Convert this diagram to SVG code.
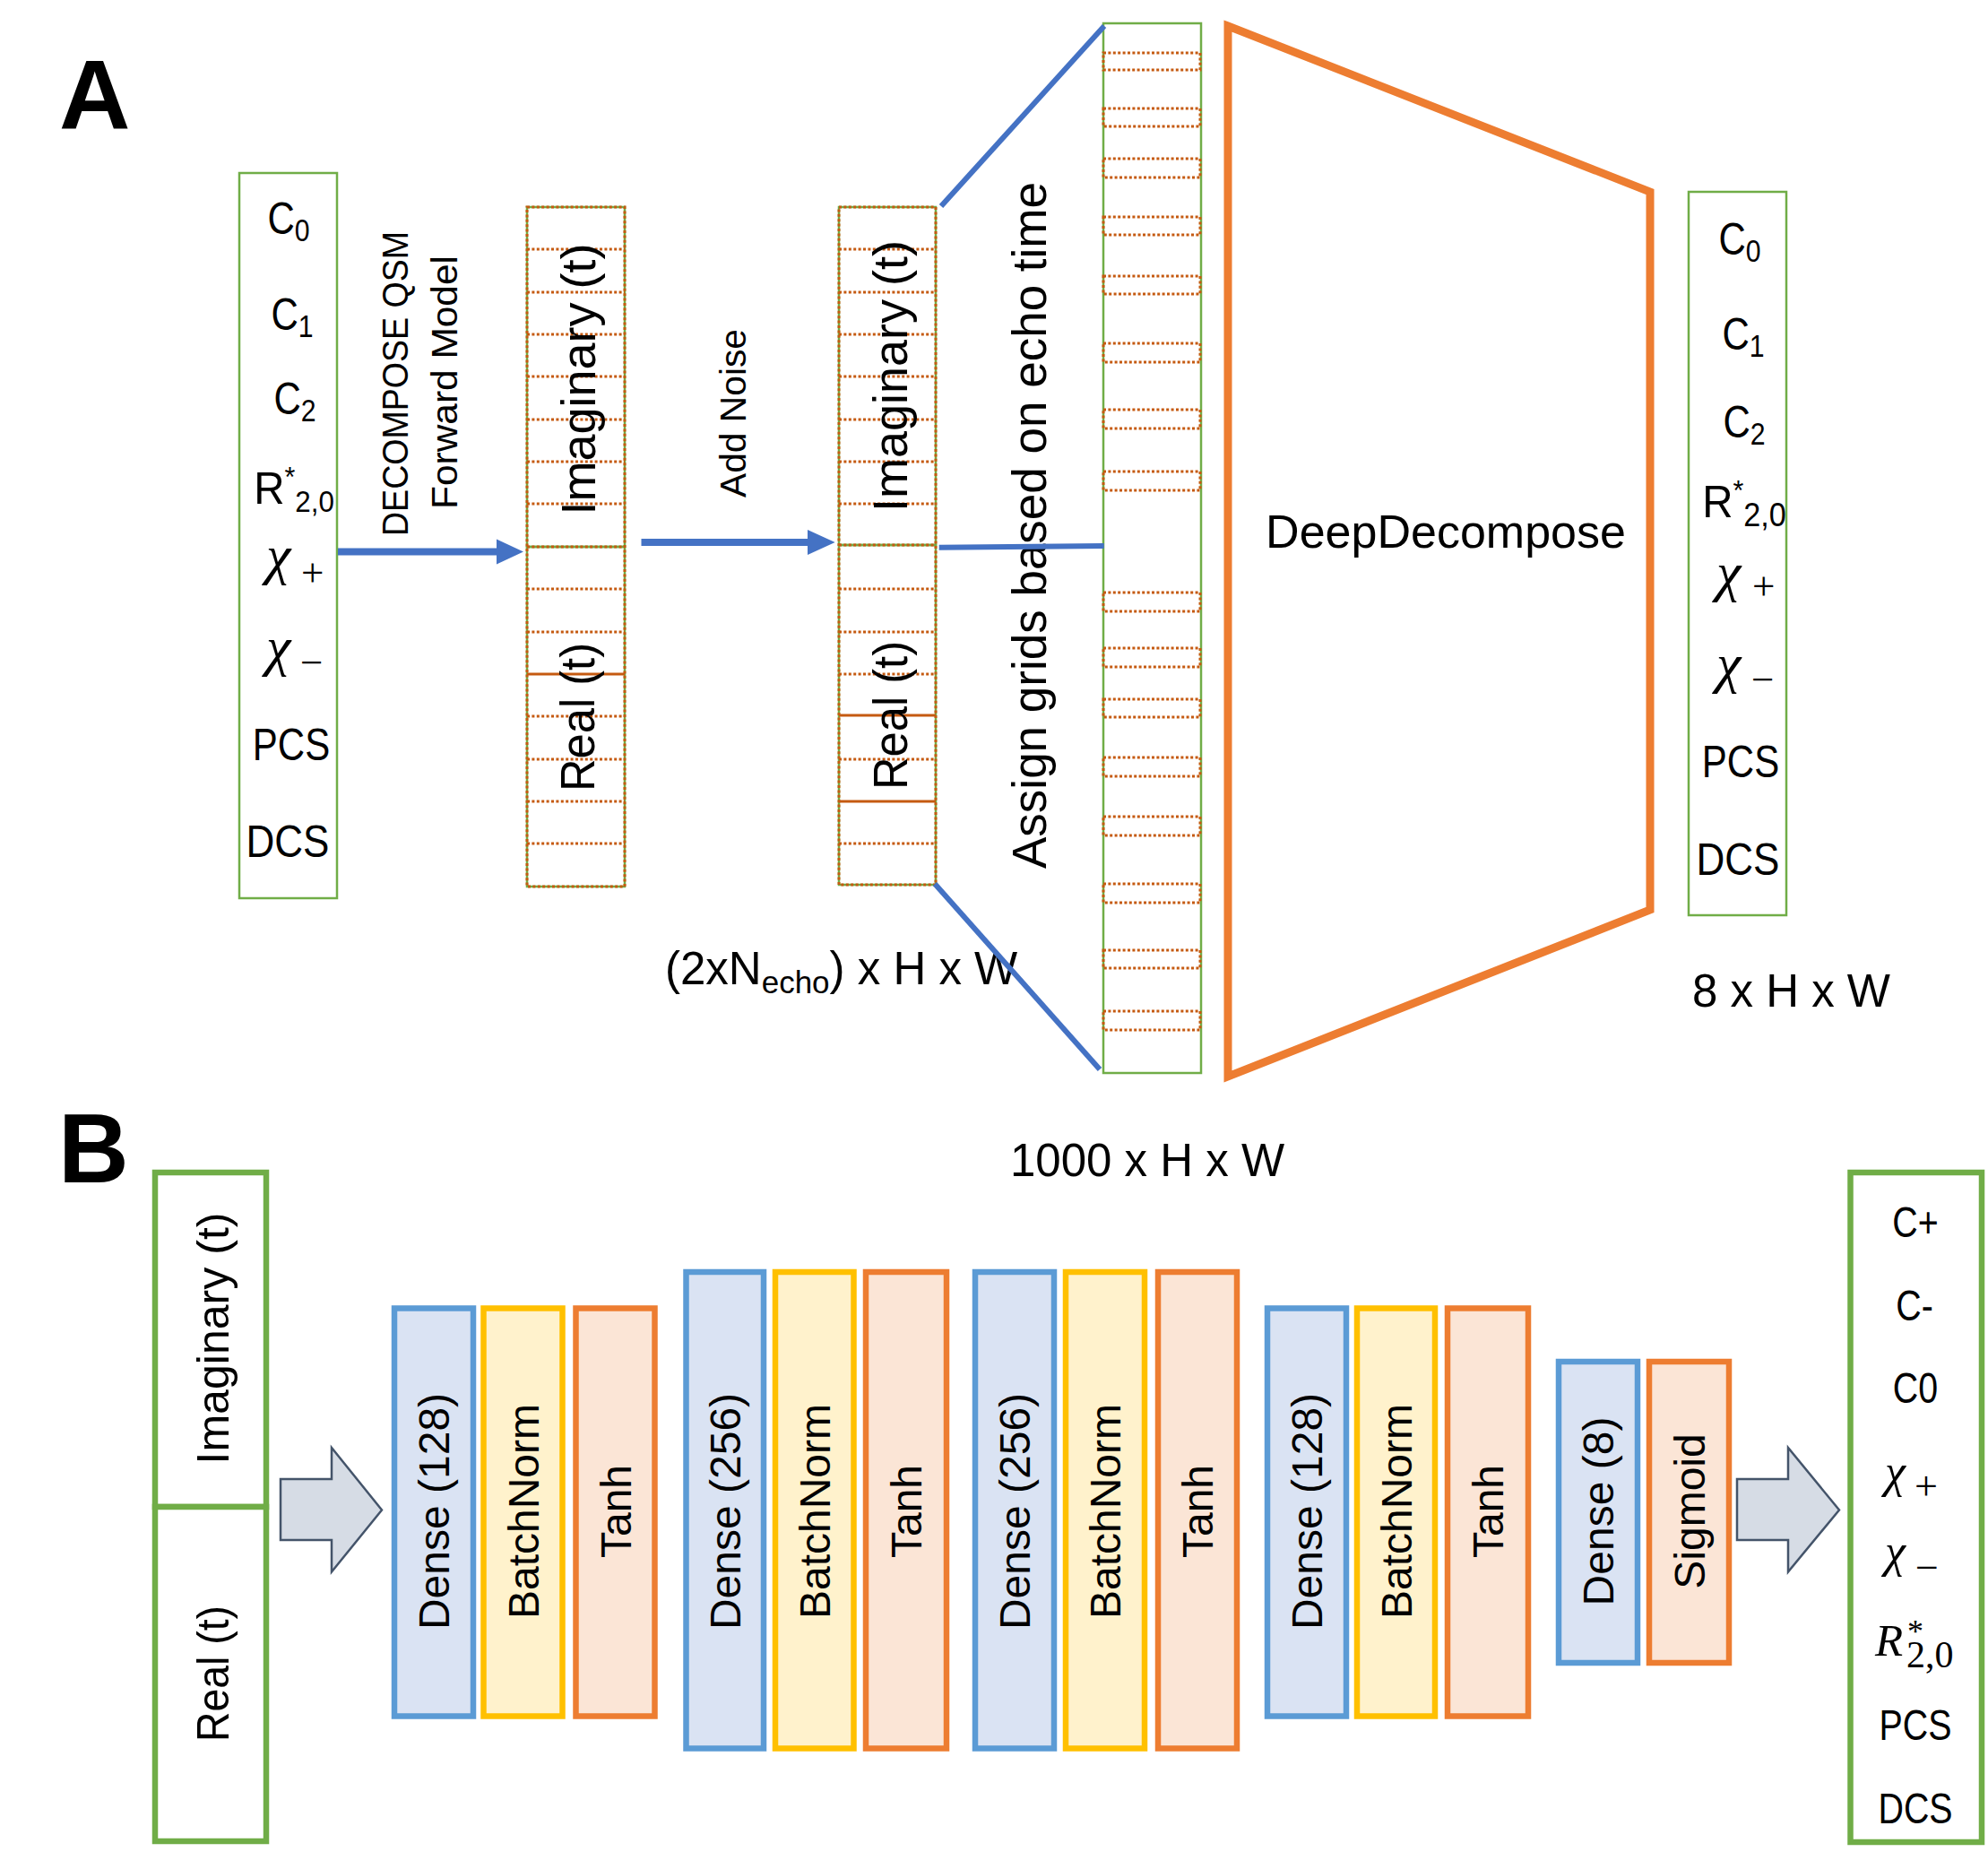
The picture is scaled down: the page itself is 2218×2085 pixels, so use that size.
<svg xmlns="http://www.w3.org/2000/svg" width="2218" height="2085" viewBox="0 0 2218 2085">
<style>
text{font-family:"Liberation Sans",Arial,sans-serif;fill:#000}
.g{fill:none;stroke:#70AD47;stroke-width:2.5}
.dot{fill:none;stroke:#C55A11;stroke-width:3;stroke-dasharray:3 2.4}
.sol{fill:none;stroke:#C55A11;stroke-width:3}
.blue{stroke:#4472C4;stroke-width:6;fill:none}
.shaft{stroke:#4472C4;stroke-width:8;fill:none}
.bluef{fill:#4472C4}
.math{font-family:"Liberation Serif","Times New Roman",serif}
.lab{font-size:50px;text-anchor:middle}
.rot{text-anchor:middle}
.dense{fill:#DAE3F3;stroke:#5B9BD5;stroke-width:6.5}
.bn{fill:#FFF2CC;stroke:#FFC000;stroke-width:6.5}
.act{fill:#FBE5D6;stroke:#ED7D31;stroke-width:6.5}
.io{fill:#fff;stroke:#70AD47;stroke-width:6.5}
.barrow{fill:#D6DCE5;stroke:#44546A;stroke-width:2.5}
.lay{font-size:48px;text-anchor:middle}
.out{font-size:48px;text-anchor:middle}
.dim{font-size:51px}
</style>

<!-- Panel A -->
<text x="66" y="143" font-weight="bold" font-size="110">A</text>

<g id="params-in">
  <rect class="g" x="267" y="193" width="109" height="809"/>
  <text class="lab" transform="translate(322,261) scale(0.84,1)">C<tspan font-size="36" dy="8">0</tspan></text>
  <text class="lab" transform="translate(326,368) scale(0.84,1)">C<tspan font-size="36" dy="8">1</tspan></text>
  <text class="lab" transform="translate(329,462) scale(0.84,1)">C<tspan font-size="36" dy="8">2</tspan></text>
  <text class="lab" transform="translate(328,562) scale(0.95,1)">R<tspan font-size="32" dy="-19">*</tspan><tspan font-size="33" dy="28">2,0</tspan></text>
  <text class="math" x="297" y="640" font-size="62"><tspan font-style="italic">χ</tspan><tspan font-size="45" x="336" dy="14">+</tspan></text>
  <text class="math" x="297" y="742" font-size="62"><tspan font-style="italic">χ</tspan><tspan font-size="45" x="335" dy="12">−</tspan></text>
  <text class="lab" transform="translate(325,848) scale(0.84,1)">PCS</text>
  <text class="lab" transform="translate(321,956) scale(0.88,1)">DCS</text>
</g>

<g id="label-forward">
  <text class="rot" font-size="41" textLength="340" lengthAdjust="spacingAndGlyphs" transform="translate(455,428) rotate(-90)">DECOMPOSE QSM</text>
  <text class="rot" font-size="41" textLength="283" lengthAdjust="spacingAndGlyphs" transform="translate(510,426.5) rotate(-90)">Forward Model</text>
</g>

<g id="signal-clean">
  <rect class="g" x="588" y="231" width="109" height="379"/>
  <rect class="g" x="588" y="610" width="109" height="379"/>
  <rect class="dot" x="588" y="231" width="109" height="758"/>
  <path class="dot" d="M588 278H697M588 326H697M588 373H697M588 420H697M588 468H697M588 515H697M588 562H697M588 610H697M588 657H697M588 705H697M588 799H697M588 847H697M588 894H697M588 941H697"/>
  <path class="sol" d="M588 752H697"/>
  <text class="rot" font-size="53" textLength="303" lengthAdjust="spacingAndGlyphs" transform="translate(664,423) rotate(-90)">Imaginary (t)</text>
  <text class="rot" font-size="53" textLength="166" lengthAdjust="spacingAndGlyphs" transform="translate(663,800) rotate(-90)">Real (t)</text>
</g>

<g id="label-noise">
  <text class="rot" font-size="40" textLength="188" lengthAdjust="spacingAndGlyphs" transform="translate(832,461) rotate(-90)">Add Noise</text>
</g>

<g id="signal-noisy">
  <rect class="g" x="936" y="231" width="108" height="377"/>
  <rect class="g" x="936" y="608" width="108" height="379"/>
  <rect class="dot" x="936" y="231" width="108" height="756"/>
  <path class="dot" d="M936 278H1044M936 326H1044M936 373H1044M936 420H1044M936 468H1044M936 515H1044M936 562H1044M936 608H1044M936 657H1044M936 705H1044M936 752H1044M936 847H1044M936 941H1044"/>
  <path class="sol" d="M936 798H1044M936 894H1044"/>
  <text class="rot" font-size="53" textLength="303" lengthAdjust="spacingAndGlyphs" transform="translate(1012,419.5) rotate(-90)">Imaginary (t)</text>
  <text class="rot" font-size="53" textLength="166" lengthAdjust="spacingAndGlyphs" transform="translate(1012,798) rotate(-90)">Real (t)</text>
</g>

<text class="dim" x="742" y="1098">(2xN<tspan font-size="35" dy="10">echo</tspan><tspan dy="-10">) x H x W</tspan></text>

<g id="label-assign">
  <text class="rot" font-size="54" textLength="766" lengthAdjust="spacingAndGlyphs" transform="translate(1167,586) rotate(-90)">Assign grids based on echo time</text>
</g>

<g id="grid-column">
  <rect class="g" x="1231" y="26" width="109" height="1171"/>
  <rect class="dot" x="1231" y="59" width="108" height="19"/>
  <rect class="dot" x="1231" y="121" width="108" height="20"/>
  <rect class="dot" x="1231" y="177" width="108" height="21"/>
  <rect class="dot" x="1231" y="242" width="108" height="20"/>
  <rect class="dot" x="1231" y="308" width="108" height="20"/>
  <rect class="dot" x="1231" y="383" width="108" height="21"/>
  <rect class="dot" x="1231" y="457" width="108" height="21"/>
  <rect class="dot" x="1231" y="526" width="108" height="21"/>
  <rect class="dot" x="1231" y="661" width="108" height="21"/>
  <rect class="dot" x="1231" y="723" width="108" height="21"/>
  <rect class="dot" x="1231" y="780" width="108" height="20"/>
  <rect class="dot" x="1231" y="845" width="108" height="21"/>
  <rect class="dot" x="1231" y="911" width="108" height="21"/>
  <rect class="dot" x="1231" y="986" width="108" height="21"/>
  <rect class="dot" x="1231" y="1060" width="108" height="20"/>
  <rect class="dot" x="1231" y="1128" width="108" height="21"/>
</g>

<text class="dim" x="1127" y="1312">1000 x H x W</text>

<g id="deepdecompose">
  <polygon points="1370,29 1841,214 1841,1015 1370,1201" fill="none" stroke="#ED7D31" stroke-width="9"/>
  <text x="1613" y="611" font-size="52" text-anchor="middle">DeepDecompose</text>
</g>

<g id="params-out">
  <rect class="g" x="1884" y="214" width="109" height="807"/>
  <text class="lab" transform="translate(1941,284) scale(0.84,1)">C<tspan font-size="36" dy="8">0</tspan></text>
  <text class="lab" transform="translate(1945,390) scale(0.84,1)">C<tspan font-size="36" dy="8">1</tspan></text>
  <text class="lab" transform="translate(1946,488) scale(0.84,1)">C<tspan font-size="36" dy="8">2</tspan></text>
  <text class="lab" transform="translate(1946,577) scale(0.95,1)">R<tspan font-size="32" dy="-19">*</tspan><tspan font-size="36" dy="29">2,0</tspan></text>
  <text class="math" x="1915" y="659" font-size="62"><tspan font-style="italic">χ</tspan><tspan font-size="45" x="1955" dy="10">+</tspan></text>
  <text class="math" x="1915" y="761" font-size="62"><tspan font-style="italic">χ</tspan><tspan font-size="45" x="1954" dy="12">−</tspan></text>
  <text class="lab" transform="translate(1942,867) scale(0.84,1)">PCS</text>
  <text class="lab" transform="translate(1939,976) scale(0.88,1)">DCS</text>
</g>

<text class="dim" x="1888" y="1123">8 x H x W</text>

<g id="connectors">
  <line class="shaft" x1="377" y1="615.5" x2="556" y2="615.5"/>
  <polygon class="bluef" points="554,601.5 584,615.5 554,629.5"/>
  <line class="shaft" x1="715.5" y1="605" x2="903" y2="605"/>
  <polygon class="bluef" points="901,591 931.6,605 901,619"/>
  <line class="blue" x1="1050" y1="230" x2="1232" y2="29"/>
  <line class="blue" x1="1047.7" y1="610.7" x2="1231.7" y2="609"/>
  <line class="blue" x1="1043" y1="986" x2="1227" y2="1193"/>
  <polygon class="barrow" points="313,1650 370,1650 370,1615 426,1684.5 370,1753.5 370,1718 313,1718"/>
  <polygon class="barrow" points="1938,1650 1995,1650 1995,1615 2052,1684.5 1995,1753.5 1995,1718 1938,1718"/>
</g>

<!-- Panel B -->
<text x="65" y="1319" font-weight="bold" font-size="109">B</text>

<g id="input-b">
  <rect class="io" x="173" y="1308" width="124" height="373"/>
  <rect class="io" x="173" y="1681" width="124" height="373"/>
  <text class="rot" font-size="50" textLength="281" lengthAdjust="spacingAndGlyphs" transform="translate(255,1493) rotate(-90)">Imaginary (t)</text>
  <text class="rot" font-size="50" textLength="152" lengthAdjust="spacingAndGlyphs" transform="translate(255,1867) rotate(-90)">Real (t)</text>
</g>

<g id="dense1"><rect class="dense" x="440" y="1459.5" width="88" height="455"/><text class="lay" transform="translate(501,1686) rotate(-90)">Dense (128)</text></g>
<g id="bn1"><rect class="bn" x="539.5" y="1459.5" width="88" height="455"/><text class="lay" transform="translate(600.5,1686) rotate(-90)">BatchNorm</text></g>
<g id="tanh1"><rect class="act" x="642.5" y="1459.5" width="88" height="455"/><text class="lay" transform="translate(703.5,1686) rotate(-90)">Tanh</text></g>

<g id="dense2"><rect class="dense" x="765.5" y="1419" width="86.5" height="531.5"/><text class="lay" transform="translate(825.7,1686) rotate(-90)">Dense (256)</text></g>
<g id="bn2"><rect class="bn" x="865" y="1419" width="87.5" height="531.5"/><text class="lay" transform="translate(925.7,1686) rotate(-90)">BatchNorm</text></g>
<g id="tanh2"><rect class="act" x="966" y="1419" width="90" height="531.5"/><text class="lay" transform="translate(1028,1686) rotate(-90)">Tanh</text></g>

<g id="dense3"><rect class="dense" x="1088" y="1419" width="88" height="531.5"/><text class="lay" transform="translate(1149,1686) rotate(-90)">Dense (256)</text></g>
<g id="bn3"><rect class="bn" x="1189" y="1419" width="88" height="531.5"/><text class="lay" transform="translate(1250,1686) rotate(-90)">BatchNorm</text></g>
<g id="tanh3"><rect class="act" x="1292" y="1419" width="88" height="531.5"/><text class="lay" transform="translate(1353,1686) rotate(-90)">Tanh</text></g>

<g id="dense4"><rect class="dense" x="1414" y="1459.5" width="88" height="455"/><text class="lay" transform="translate(1475,1686) rotate(-90)">Dense (128)</text></g>
<g id="bn4"><rect class="bn" x="1514" y="1459.5" width="87" height="455"/><text class="lay" transform="translate(1574.5,1686) rotate(-90)">BatchNorm</text></g>
<g id="tanh4"><rect class="act" x="1615" y="1459.5" width="90" height="455"/><text class="lay" transform="translate(1677,1686) rotate(-90)">Tanh</text></g>

<g id="dense5"><rect class="dense" x="1739" y="1519" width="88" height="336"/><text class="lay" transform="translate(1800,1686) rotate(-90)">Dense (8)</text></g>
<g id="sigmoid"><rect class="act" x="1840" y="1519" width="89" height="336"/><text class="lay" transform="translate(1901.5,1686) rotate(-90)">Sigmoid</text></g>

<g id="output-b">
  <rect class="io" x="2064.5" y="1308" width="146.5" height="747"/>
  <text class="out" transform="translate(2137,1380) scale(0.82,1)">C+</text>
  <text class="out" transform="translate(2136,1473) scale(0.82,1)">C-</text>
  <text class="out" transform="translate(2137,1565) scale(0.82,1)">C0</text>
  <text class="math" x="2103" y="1659" font-size="52"><tspan font-style="italic">χ</tspan><tspan font-size="46" x="2136" dy="14">+</tspan></text>
  <text class="math" x="2103" y="1748" font-size="52"><tspan font-style="italic">χ</tspan><tspan font-size="46" x="2137" dy="16">−</tspan></text>
  <text class="math" x="2092" y="1847" font-size="51"><tspan font-style="italic">R</tspan><tspan font-size="36" x="2128" dy="-15">*</tspan><tspan font-size="42" x="2127" dy="28">2,0</tspan></text>
  <text class="out" transform="translate(2137,1941) scale(0.82,1)">PCS</text>
  <text class="out" transform="translate(2137,2034) scale(0.82,1)">DCS</text>
</g>
</svg>
